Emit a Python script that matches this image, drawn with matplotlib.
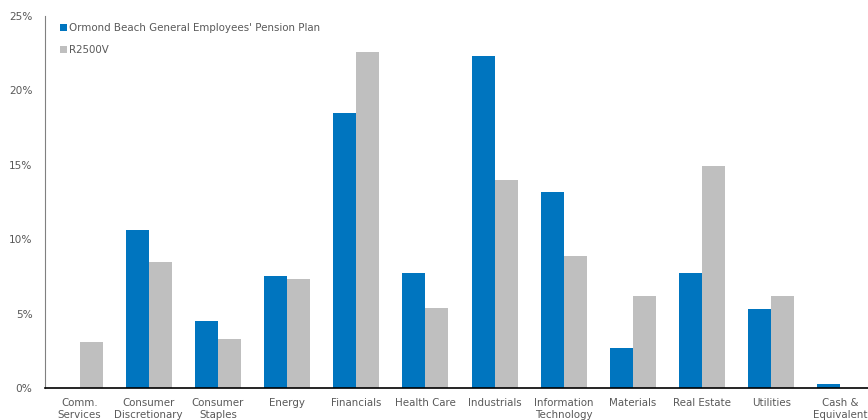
import matplotlib.pyplot as plt
import numpy as np
from matplotlib.ticker import FuncFormatter

categories = ['Comm.\nServices', 'Consumer\nDiscretionary', 'Consumer\nStaples', 'Energy',
              'Financials', 'Health Care', 'Industrials', 'Information\nTechnology',
              'Materials', 'Real Estate', 'Utilities', 'Cash &\nEquivalent']
plan = [0.0, 10.6, 4.5, 7.5, 18.5, 7.7, 22.3, 13.2, 2.7, 7.7, 5.3, 0.3]
bench = [3.1, 8.5, 3.3, 7.3, 22.6, 5.4, 14.0, 8.9, 6.2, 14.9, 6.2, 0.0]
series_names = ["Ormond Beach General Employees' Pension Plan", 'R2500V']

blue = '#0075BF'
grey = '#BFBFBF'
text_color = '#595959'

fig = plt.figure(figsize=(8.68, 4.2), dpi=100)
ax = fig.add_axes([45/868, 32/420, 830/868, 372/420])

x = np.arange(len(categories))
w = 0.333
ax.bar(x - w/2, plan, w, color=blue, label=series_names[0])
ax.bar(x + w/2, bench, w, color=grey, label=series_names[1])

ax.set_xlim(-0.5, len(categories) - 0.5)
ax.set_ylim(0, 25)
ax.set_yticks(np.arange(0, 26, 5))
ax.yaxis.set_major_formatter(FuncFormatter(lambda v, p: f'{v:.0f}%'))
ax.set_xticks(x)
ax.set_xticklabels(categories, fontsize=7.4, color=text_color, linespacing=1.25)
ax.tick_params(axis='y', labelsize=7.6, labelcolor=text_color, length=0, pad=9)
ax.tick_params(axis='x', length=0, pad=7)

for s in ['top', 'right']:
    ax.spines[s].set_visible(False)
ax.spines['left'].set_color('#808080')
ax.spines['bottom'].set_color('black')
ax.spines['bottom'].set_linewidth(1.2)

leg = ax.legend(loc='upper left', bbox_to_anchor=(0.007, 1.006), frameon=False,
                fontsize=7.4, handlelength=0.7, handleheight=0.7, handletextpad=0.15,
                labelspacing=1.15)
for t in leg.get_texts():
    t.set_color(text_color)

fig.savefig('out.png', dpi=100)
